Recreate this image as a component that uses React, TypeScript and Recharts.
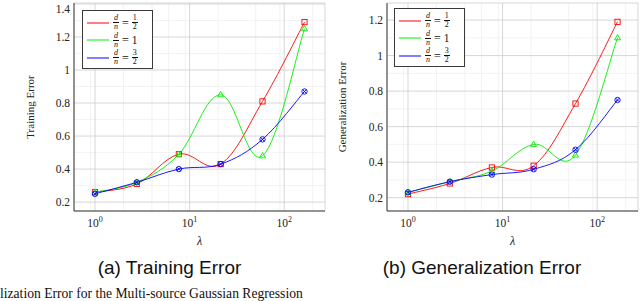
import React from "react";
import { CartesianGrid, Legend, Line, LineChart, XAxis, YAxis } from "recharts";

// λ sample points (log spaced) and the three d/n curves for each panel.
const lambdas = [1, 2.77, 7.7, 21.3, 59, 164];

const trainHalf = [0.26, 0.31, 0.49, 0.43, 0.81, 1.29];
const trainOne = [0.26, 0.32, 0.49, 0.85, 0.48, 1.25];
const trainThreeHalves = [0.25, 0.32, 0.4, 0.43, 0.58, 0.87];

const genHalf = [0.22, 0.28, 0.37, 0.38, 0.73, 1.19];
const genOne = [0.23, 0.29, 0.35, 0.5, 0.44, 1.1];
const genThreeHalves = [0.23, 0.29, 0.33, 0.36, 0.47, 0.75];

const seriesNames = ["d/n = 1/2", "d/n = 1", "d/n = 3/2"];
const seriesRatios = [["1", "2"], ["1"], ["3", "2"]];

const xTicks = [1, 10, 100];
const xMinor = [0.6, 0.7, 0.8, 0.9, 2, 3, 4, 5, 6, 7, 8, 9, 20, 30, 40, 50, 60, 70, 80, 90, 200];
const trainYTicks = [0.2, 0.4, 0.6, 0.8, 1, 1.2, 1.4];
const trainYMinor = [0.3, 0.5, 0.7, 0.9, 1.1, 1.3];
const genYTicks = [0.2, 0.4, 0.6, 0.8, 1, 1.2];
const genYMinor = [0.3, 0.5, 0.7, 0.9, 1.1];

const X_DOMAIN = [0.6, 270];
const COLORS = { half: "#ff0000", one: "#00ee00", threeHalves: "#0000ff" };
const SERIF = "'Liberation Serif', 'DejaVu Serif', serif";
const SANS = "'Liberation Sans', Arial, sans-serif";
const FRAME = "#3a3a3a";
const INK = "#222";

// pgfplots "smooth" — cardinal bezier with tension 0.55 (≈0.183 control factor)
const SMOOTH = 0.183;
function pgfSmooth(context: any) {
  let pts: number[][] = [];
  return {
    areaStart() {},
    areaEnd() {},
    lineStart() {
      pts = [];
    },
    point(x: number, y: number) {
      pts.push([+x, +y]);
    },
    lineEnd() {
      const n = pts.length;
      if (!n) return;
      context.moveTo(pts[0][0], pts[0][1]);
      for (let i = 0; i < n - 1; i++) {
        const a = pts[Math.max(i - 1, 0)];
        const b = pts[i];
        const c = pts[i + 1];
        const d = pts[Math.min(i + 2, n - 1)];
        context.bezierCurveTo(
          b[0] + (c[0] - a[0]) * SMOOTH,
          b[1] + (c[1] - a[1]) * SMOOTH,
          c[0] - (d[0] - b[0]) * SMOOTH,
          c[1] - (d[1] - b[1]) * SMOOTH,
          c[0],
          c[1]
        );
      }
    },
  };
}

const squareDot = (p: any) => (
  <rect
    key={`sq-${p.index}`}
    x={p.cx - 2.6}
    y={p.cy - 2.6}
    width={5.2}
    height={5.2}
    fill="none"
    stroke={COLORS.half}
    strokeWidth={0.9}
  />
);

const triangleDot = (p: any) => (
  <polygon
    key={`tr-${p.index}`}
    points={`${p.cx},${p.cy - 3.3} ${p.cx - 3},${p.cy + 2} ${p.cx + 3},${p.cy + 2}`}
    fill="none"
    stroke={COLORS.one}
    strokeWidth={0.9}
  />
);

const otimesDot = (p: any) => (
  <g key={`ot-${p.index}`} stroke={COLORS.threeHalves} strokeWidth={0.9} fill="none">
    <circle cx={p.cx} cy={p.cy} r={2.7} />
    <line x1={p.cx - 1.9} y1={p.cy - 1.9} x2={p.cx + 1.9} y2={p.cy + 1.9} />
    <line x1={p.cx - 1.9} y1={p.cy + 1.9} x2={p.cx + 1.9} y2={p.cy - 1.9} />
  </g>
);

function PowerTick({ x, y, payload }: any) {
  const exp = Math.round(Math.log10(payload.value));
  return (
    <text x={x} y={y} dy={16} textAnchor="middle" style={{ fontFamily: SERIF }} fontSize={11.5} fill={INK}>
      10
      <tspan dy={-5} fontSize={8}>
        {exp}
      </tspan>
    </text>
  );
}

function ValueTick({ x, y, payload }: any) {
  return (
    <text x={x} y={y} dy={4} textAnchor="end" style={{ fontFamily: SERIF }} fontSize={11.5} fill={INK}>
      {String(+Number(payload.value).toFixed(1))}
    </text>
  );
}

function Frac({ top, bottom, italic }: { top: string; bottom: string; italic?: boolean }) {
  return (
    <span
      style={{
        display: "inline-flex",
        flexDirection: "column",
        alignItems: "center",
        verticalAlign: "middle",
        fontSize: 8,
        lineHeight: "8px",
        fontStyle: italic ? "italic" : "normal",
      }}
    >
      <span style={{ padding: "0 1px" }}>{top}</span>
      <span style={{ borderTop: "0.8px solid #111", padding: "0 1px" }}>{bottom}</span>
    </span>
  );
}

function LegendBox({ payload }: any) {
  const entries = [...(payload || [])].sort(
    (a: any, b: any) => seriesNames.indexOf(a.value) - seriesNames.indexOf(b.value)
  );
  return (
    <div
      style={{
        width: 71,
        height: 59,
        boxSizing: "border-box",
        border: `1px solid ${FRAME}`,
        background: "#fff",
        padding: "3px 0 0 4px",
        fontFamily: SERIF,
        color: "#111",
      }}
    >
      {entries.map((entry: any) => {
        const idx = seriesNames.indexOf(entry.value);
        const ratio = seriesRatios[idx] || ["1"];
        return (
          <div key={entry.value} style={{ display: "flex", alignItems: "center", height: 17.5 }}>
            <svg width={22} height={4} style={{ marginRight: 4 }}>
              <line x1={0} y1={2} x2={22} y2={2} stroke={entry.color} strokeWidth={1} />
            </svg>
            <Frac top="d" bottom="n" italic />
            <span style={{ fontSize: 12, margin: "0 3px", lineHeight: "12px" }}>=</span>
            {ratio.length === 2 ? (
              <Frac top={ratio[0]} bottom={ratio[1]} />
            ) : (
              <span style={{ fontSize: 11.5, lineHeight: "12px" }}>{ratio[0]}</span>
            )}
          </div>
        );
      })}
    </div>
  );
}

function ErrorPanel({
  half,
  one,
  threeHalves,
  yDomain,
  yTicks,
  yMinor,
  yLabel,
  yLabelX,
  width,
  yAxisWidth,
  marginRight,
  legendLeft,
  legendTop,
}: any) {
  const data = lambdas.map((l, i) => ({
    lambda: l,
    half: half[i],
    one: one[i],
    threeHalves: threeHalves[i],
  }));
  return (
    <LineChart
      width={width}
      height={250}
      data={data}
      margin={{ top: 3, right: marginRight, bottom: 4, left: 0 }}
    >
      <CartesianGrid
        verticalValues={xMinor}
        horizontalValues={yMinor}
        stroke="#ebebeb"
        strokeWidth={0.6}
      />
      <CartesianGrid stroke="#cdcdcd" strokeWidth={0.8} />
      <XAxis
        dataKey="lambda"
        type="number"
        scale="log"
        domain={X_DOMAIN}
        ticks={xTicks}
        allowDataOverflow
        height={35}
        tickLine={false}
        tickSize={0}
        tickMargin={0}
        tick={<PowerTick />}
        axisLine={{ stroke: FRAME, strokeWidth: 1 }}
        label={{
          content: ({ viewBox }: any) => (
            <text
              x={viewBox.x + viewBox.width / 2}
              y={viewBox.y + 34}
              textAnchor="middle"
              style={{ fontFamily: SERIF }}
              fontStyle="italic"
              fontSize={12}
              fill={INK}
            >
              λ
            </text>
          ),
        }}
      />
      <XAxis
        xAxisId="top"
        orientation="top"
        type="number"
        scale="log"
        domain={X_DOMAIN}
        allowDataOverflow
        height={0}
        tick={false}
        tickLine={false}
        axisLine={{ stroke: FRAME, strokeWidth: 1 }}
      />
      <YAxis
        type="number"
        domain={yDomain}
        ticks={yTicks}
        allowDataOverflow
        width={yAxisWidth}
        tickLine={false}
        tickSize={2}
        tickMargin={2}
        tick={<ValueTick />}
        axisLine={{ stroke: FRAME, strokeWidth: 1 }}
        label={{
          content: ({ viewBox }: any) => {
            const cx = viewBox.x + yLabelX;
            const cy = viewBox.y + viewBox.height / 2;
            return (
              <text
                x={cx}
                y={cy}
                transform={`rotate(-90 ${cx} ${cy})`}
                textAnchor="middle"
                dominantBaseline="central"
                style={{ fontFamily: SERIF }}
                fontSize={11}
                fill={INK}
              >
                {yLabel}
              </text>
            );
          },
        }}
      />
      <YAxis
        yAxisId="right"
        orientation="right"
        type="number"
        domain={yDomain}
        allowDataOverflow
        width={0}
        tick={false}
        tickLine={false}
        axisLine={{ stroke: FRAME, strokeWidth: 1 }}
      />
      <Legend
        layout="horizontal"
        verticalAlign="middle"
        align="center"
        content={<LegendBox />}
        wrapperStyle={{ left: legendLeft, top: legendTop, width: 71, height: 59 }}
      />
      <Line
        dataKey="half"
        name={seriesNames[0]}
        type={pgfSmooth as any}
        stroke={COLORS.half}
        strokeWidth={0.9}
        dot={squareDot}
        activeDot={false}
        isAnimationActive={false}
      />
      <Line
        dataKey="one"
        name={seriesNames[1]}
        type={pgfSmooth as any}
        stroke={COLORS.one}
        strokeWidth={0.9}
        dot={triangleDot}
        activeDot={false}
        isAnimationActive={false}
      />
      <Line
        dataKey="threeHalves"
        name={seriesNames[2]}
        type={pgfSmooth as any}
        stroke={COLORS.threeHalves}
        strokeWidth={0.9}
        dot={otimesDot}
        activeDot={false}
        isAnimationActive={false}
      />
    </LineChart>
  );
}

export default function App() {
  return (
    <div
      style={{
        position: "fixed",
        left: 0,
        top: 0,
        width: 640,
        height: 301,
        background: "#fff",
        overflow: "hidden",
      }}
    >
      <svg width={640} height={301} style={{ position: "absolute", left: 0, top: 0 }}>
        <text x={169.5} y={274} textAnchor="middle" fontFamily={SANS} fontSize={19} fill="#111">
          (a) Training Error
        </text>
        <text x={482} y={274} textAnchor="middle" fontFamily={SANS} fontSize={19} fill="#111">
          (b) Generalization Error
        </text>
        <text x={0} y={297.5} fontFamily={SERIF} fontSize={13.6} fill="#111">
          lization Error for the Multi-source Gaussian Regression
        </text>
      </svg>
      <div style={{ position: "absolute", left: 0, top: 0 }}>
        <ErrorPanel
          half={trainHalf}
          one={trainOne}
          threeHalves={trainThreeHalves}
          yDomain={[0.146, 1.406]}
          yTicks={trainYTicks}
          yMinor={trainYMinor}
          yLabel="Training Error"
          yLabelX={30}
          width={326}
          yAxisWidth={74}
          marginRight={1}
          legendLeft={82}
          legendTop={10}
        />
      </div>
      <div style={{ position: "absolute", left: 320, top: 0 }}>
        <ErrorPanel
          half={genHalf}
          one={genOne}
          threeHalves={genThreeHalves}
          yDomain={[0.125, 1.296]}
          yTicks={genYTicks}
          yMinor={genYMinor}
          yLabel="Generalization Error"
          yLabelX={22}
          width={320}
          yAxisWidth={67}
          marginRight={2}
          legendLeft={74}
          legendTop={8}
        />
      </div>
    </div>
  );
}
